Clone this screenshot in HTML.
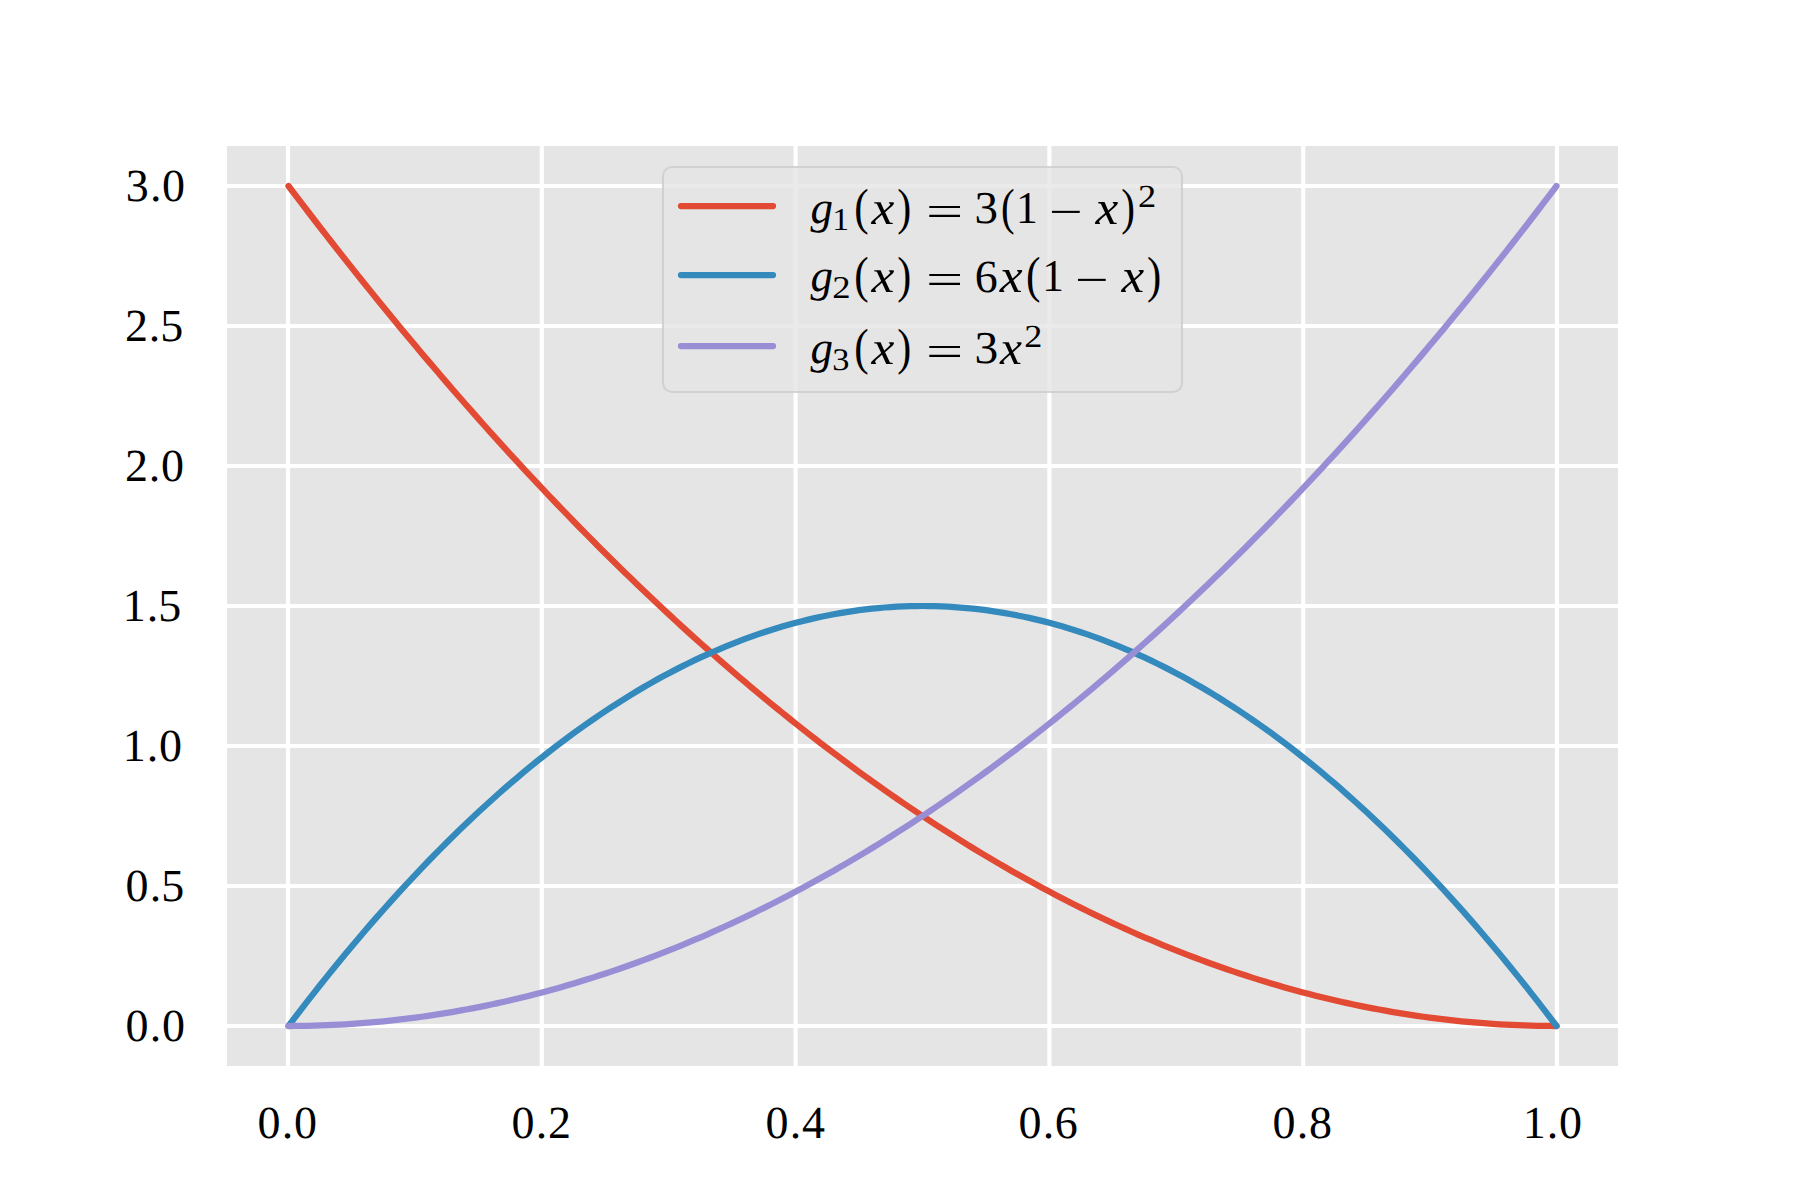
<!DOCTYPE html>
<html lang="en">
<head>
<meta charset="utf-8">
<title>Bernstein basis densities</title>
<style>
html,body{margin:0;padding:0;background:#fff;}
body{width:1800px;height:1200px;overflow:hidden;}
svg{display:block;}
text{font-family:"Liberation Serif","DejaVu Serif",serif;fill:#000;text-rendering:geometricPrecision;}
.tick{font-size:46px;}
</style>
</head>
<body>
<svg width="1800" height="1200" viewBox="0 0 1800 1200">
<rect x="0" y="0" width="1800" height="1200" fill="#ffffff"/>
<rect x="227" y="146" width="1391" height="920" fill="#e5e5e5"/>
<g stroke="#ffffff" stroke-width="4.17" fill="none">
<line x1="288.00" y1="146" x2="288.00" y2="1066"/>
<line x1="541.80" y1="146" x2="541.80" y2="1066"/>
<line x1="795.60" y1="146" x2="795.60" y2="1066"/>
<line x1="1049.40" y1="146" x2="1049.40" y2="1066"/>
<line x1="1303.20" y1="146" x2="1303.20" y2="1066"/>
<line x1="1557.00" y1="146" x2="1557.00" y2="1066"/>
<line x1="227" y1="1026.00" x2="1618" y2="1026.00"/>
<line x1="227" y1="886.00" x2="1618" y2="886.00"/>
<line x1="227" y1="746.00" x2="1618" y2="746.00"/>
<line x1="227" y1="606.00" x2="1618" y2="606.00"/>
<line x1="227" y1="466.00" x2="1618" y2="466.00"/>
<line x1="227" y1="326.00" x2="1618" y2="326.00"/>
<line x1="227" y1="186.00" x2="1618" y2="186.00"/>
</g>
<g fill="none" stroke-width="6.25" stroke-linecap="round" stroke-linejoin="round">
<path stroke="#e24a33" d="M288.50,186.00 L294.84,194.38 L301.18,202.72 L307.52,211.01 L313.86,219.26 L320.20,227.48 L326.54,235.64 L332.88,243.77 L339.22,251.86 L345.56,259.90 L351.90,267.90 L358.24,275.86 L364.58,283.78 L370.92,291.65 L377.26,299.48 L383.60,307.27 L389.94,315.02 L396.28,322.73 L402.62,330.40 L408.96,338.02 L415.30,345.60 L421.64,353.14 L427.98,360.64 L434.32,368.09 L440.66,375.50 L447.00,382.88 L453.34,390.20 L459.68,397.49 L466.02,404.74 L472.36,411.94 L478.70,419.10 L485.04,426.22 L491.38,433.30 L497.72,440.33 L504.06,447.32 L510.40,454.28 L516.74,461.18 L523.08,468.05 L529.42,474.88 L535.76,481.66 L542.10,488.40 L548.44,495.10 L554.78,501.76 L561.12,508.37 L567.46,514.94 L573.80,521.47 L580.14,527.96 L586.48,534.41 L592.82,540.82 L599.16,547.18 L605.50,553.50 L611.84,559.78 L618.18,566.02 L624.52,572.21 L630.86,578.36 L637.20,584.47 L643.54,590.54 L649.88,596.57 L656.22,602.56 L662.56,608.50 L668.90,614.40 L675.24,620.26 L681.58,626.08 L687.92,631.85 L694.26,637.58 L700.60,643.27 L706.94,648.92 L713.28,654.53 L719.62,660.10 L725.96,665.62 L732.30,671.10 L738.64,676.54 L744.98,681.94 L751.32,687.29 L757.66,692.60 L764.00,697.88 L770.34,703.10 L776.68,708.29 L783.02,713.44 L789.36,718.54 L795.70,723.60 L802.04,728.62 L808.38,733.60 L814.72,738.53 L821.06,743.42 L827.40,748.28 L833.74,753.08 L840.08,757.85 L846.42,762.58 L852.76,767.26 L859.10,771.90 L865.44,776.50 L871.78,781.06 L878.12,785.57 L884.46,790.04 L890.80,794.48 L897.14,798.86 L903.48,803.21 L909.82,807.52 L916.16,811.78 L922.50,816.00 L928.84,820.18 L935.18,824.32 L941.52,828.41 L947.86,832.46 L954.20,836.48 L960.54,840.44 L966.88,844.37 L973.22,848.26 L979.56,852.10 L985.90,855.90 L992.24,859.66 L998.58,863.38 L1004.92,867.05 L1011.26,870.68 L1017.60,874.28 L1023.94,877.82 L1030.28,881.33 L1036.62,884.80 L1042.96,888.22 L1049.30,891.60 L1055.64,894.94 L1061.98,898.24 L1068.32,901.49 L1074.66,904.70 L1081.00,907.88 L1087.34,911.00 L1093.68,914.09 L1100.02,917.14 L1106.36,920.14 L1112.70,923.10 L1119.04,926.02 L1125.38,928.90 L1131.72,931.73 L1138.06,934.52 L1144.40,937.28 L1150.74,939.98 L1157.08,942.65 L1163.42,945.28 L1169.76,947.86 L1176.10,950.40 L1182.44,952.90 L1188.78,955.36 L1195.12,957.77 L1201.46,960.14 L1207.80,962.48 L1214.14,964.76 L1220.48,967.01 L1226.82,969.22 L1233.16,971.38 L1239.50,973.50 L1245.84,975.58 L1252.18,977.62 L1258.52,979.61 L1264.86,981.56 L1271.20,983.48 L1277.54,985.34 L1283.88,987.17 L1290.22,988.96 L1296.56,990.70 L1302.90,992.40 L1309.24,994.06 L1315.58,995.68 L1321.92,997.25 L1328.26,998.78 L1334.60,1000.27 L1340.94,1001.72 L1347.28,1003.13 L1353.62,1004.50 L1359.96,1005.82 L1366.30,1007.10 L1372.64,1008.34 L1378.98,1009.54 L1385.32,1010.69 L1391.66,1011.80 L1398.00,1012.88 L1404.34,1013.90 L1410.68,1014.89 L1417.02,1015.84 L1423.36,1016.74 L1429.70,1017.60 L1436.04,1018.42 L1442.38,1019.20 L1448.72,1019.93 L1455.06,1020.62 L1461.40,1021.27 L1467.74,1021.88 L1474.08,1022.45 L1480.42,1022.98 L1486.76,1023.46 L1493.10,1023.90 L1499.44,1024.30 L1505.78,1024.66 L1512.12,1024.97 L1518.46,1025.24 L1524.80,1025.47 L1531.14,1025.66 L1537.48,1025.81 L1543.82,1025.92 L1550.16,1025.98 L1556.50,1026.00"/>
<path stroke="#348abd" d="M288.50,1026.00 L294.84,1017.64 L301.18,1009.37 L307.52,1001.18 L313.86,993.07 L320.20,985.05 L326.54,977.11 L332.88,969.26 L339.22,961.49 L345.56,953.80 L351.90,946.20 L358.24,938.68 L364.58,931.25 L370.92,923.90 L377.26,916.63 L383.60,909.45 L389.94,902.35 L396.28,895.34 L402.62,888.41 L408.96,881.56 L415.30,874.80 L421.64,868.12 L427.98,861.53 L434.32,855.02 L440.66,848.59 L447.00,842.25 L453.34,835.99 L459.68,829.82 L466.02,823.73 L472.36,817.72 L478.70,811.80 L485.04,805.96 L491.38,800.21 L497.72,794.54 L504.06,788.95 L510.40,783.45 L516.74,778.03 L523.08,772.70 L529.42,767.45 L535.76,762.28 L542.10,757.20 L548.44,752.20 L554.78,747.29 L561.12,742.46 L567.46,737.71 L573.80,733.05 L580.14,728.47 L586.48,723.98 L592.82,719.57 L599.16,715.24 L605.50,711.00 L611.84,706.84 L618.18,702.77 L624.52,698.78 L630.86,694.87 L637.20,691.05 L643.54,687.31 L649.88,683.66 L656.22,680.09 L662.56,676.60 L668.90,673.20 L675.24,669.88 L681.58,666.65 L687.92,663.50 L694.26,660.43 L700.60,657.45 L706.94,654.55 L713.28,651.74 L719.62,649.01 L725.96,646.36 L732.30,643.80 L738.64,641.32 L744.98,638.93 L751.32,636.62 L757.66,634.39 L764.00,632.25 L770.34,630.19 L776.68,628.22 L783.02,626.33 L789.36,624.52 L795.70,622.80 L802.04,621.16 L808.38,619.61 L814.72,618.14 L821.06,616.75 L827.40,615.45 L833.74,614.23 L840.08,613.10 L846.42,612.05 L852.76,611.08 L859.10,610.20 L865.44,609.40 L871.78,608.69 L878.12,608.06 L884.46,607.51 L890.80,607.05 L897.14,606.67 L903.48,606.38 L909.82,606.17 L916.16,606.04 L922.50,606.00 L928.84,606.04 L935.18,606.17 L941.52,606.38 L947.86,606.67 L954.20,607.05 L960.54,607.51 L966.88,608.06 L973.22,608.69 L979.56,609.40 L985.90,610.20 L992.24,611.08 L998.58,612.05 L1004.92,613.10 L1011.26,614.23 L1017.60,615.45 L1023.94,616.75 L1030.28,618.14 L1036.62,619.61 L1042.96,621.16 L1049.30,622.80 L1055.64,624.52 L1061.98,626.33 L1068.32,628.22 L1074.66,630.19 L1081.00,632.25 L1087.34,634.39 L1093.68,636.62 L1100.02,638.93 L1106.36,641.32 L1112.70,643.80 L1119.04,646.36 L1125.38,649.01 L1131.72,651.74 L1138.06,654.55 L1144.40,657.45 L1150.74,660.43 L1157.08,663.50 L1163.42,666.65 L1169.76,669.88 L1176.10,673.20 L1182.44,676.60 L1188.78,680.09 L1195.12,683.66 L1201.46,687.31 L1207.80,691.05 L1214.14,694.87 L1220.48,698.78 L1226.82,702.77 L1233.16,706.84 L1239.50,711.00 L1245.84,715.24 L1252.18,719.57 L1258.52,723.98 L1264.86,728.47 L1271.20,733.05 L1277.54,737.71 L1283.88,742.46 L1290.22,747.29 L1296.56,752.20 L1302.90,757.20 L1309.24,762.28 L1315.58,767.45 L1321.92,772.70 L1328.26,778.03 L1334.60,783.45 L1340.94,788.95 L1347.28,794.54 L1353.62,800.21 L1359.96,805.96 L1366.30,811.80 L1372.64,817.72 L1378.98,823.73 L1385.32,829.82 L1391.66,835.99 L1398.00,842.25 L1404.34,848.59 L1410.68,855.02 L1417.02,861.53 L1423.36,868.12 L1429.70,874.80 L1436.04,881.56 L1442.38,888.41 L1448.72,895.34 L1455.06,902.35 L1461.40,909.45 L1467.74,916.63 L1474.08,923.90 L1480.42,931.25 L1486.76,938.68 L1493.10,946.20 L1499.44,953.80 L1505.78,961.49 L1512.12,969.26 L1518.46,977.11 L1524.80,985.05 L1531.14,993.07 L1537.48,1001.18 L1543.82,1009.37 L1550.16,1017.64 L1556.50,1026.00"/>
<path stroke="#988ed5" d="M288.50,1026.00 L294.84,1025.98 L301.18,1025.92 L307.52,1025.81 L313.86,1025.66 L320.20,1025.47 L326.54,1025.24 L332.88,1024.97 L339.22,1024.66 L345.56,1024.30 L351.90,1023.90 L358.24,1023.46 L364.58,1022.98 L370.92,1022.45 L377.26,1021.88 L383.60,1021.27 L389.94,1020.62 L396.28,1019.93 L402.62,1019.20 L408.96,1018.42 L415.30,1017.60 L421.64,1016.74 L427.98,1015.84 L434.32,1014.89 L440.66,1013.90 L447.00,1012.88 L453.34,1011.80 L459.68,1010.69 L466.02,1009.54 L472.36,1008.34 L478.70,1007.10 L485.04,1005.82 L491.38,1004.50 L497.72,1003.13 L504.06,1001.72 L510.40,1000.27 L516.74,998.78 L523.08,997.25 L529.42,995.68 L535.76,994.06 L542.10,992.40 L548.44,990.70 L554.78,988.96 L561.12,987.17 L567.46,985.34 L573.80,983.48 L580.14,981.56 L586.48,979.61 L592.82,977.62 L599.16,975.58 L605.50,973.50 L611.84,971.38 L618.18,969.22 L624.52,967.01 L630.86,964.76 L637.20,962.48 L643.54,960.14 L649.88,957.77 L656.22,955.36 L662.56,952.90 L668.90,950.40 L675.24,947.86 L681.58,945.28 L687.92,942.65 L694.26,939.98 L700.60,937.27 L706.94,934.52 L713.28,931.73 L719.62,928.90 L725.96,926.02 L732.30,923.10 L738.64,920.14 L744.98,917.14 L751.32,914.09 L757.66,911.00 L764.00,907.88 L770.34,904.70 L776.68,901.49 L783.02,898.24 L789.36,894.94 L795.70,891.60 L802.04,888.22 L808.38,884.80 L814.72,881.33 L821.06,877.82 L827.40,874.28 L833.74,870.68 L840.08,867.05 L846.42,863.38 L852.76,859.66 L859.10,855.90 L865.44,852.10 L871.78,848.26 L878.12,844.37 L884.46,840.44 L890.80,836.48 L897.14,832.46 L903.48,828.41 L909.82,824.32 L916.16,820.18 L922.50,816.00 L928.84,811.78 L935.18,807.52 L941.52,803.21 L947.86,798.86 L954.20,794.48 L960.54,790.04 L966.88,785.57 L973.22,781.06 L979.56,776.50 L985.90,771.90 L992.24,767.26 L998.58,762.58 L1004.92,757.85 L1011.26,753.08 L1017.60,748.27 L1023.94,743.42 L1030.28,738.53 L1036.62,733.60 L1042.96,728.62 L1049.30,723.60 L1055.64,718.54 L1061.98,713.44 L1068.32,708.29 L1074.66,703.10 L1081.00,697.88 L1087.34,692.60 L1093.68,687.29 L1100.02,681.94 L1106.36,676.54 L1112.70,671.10 L1119.04,665.62 L1125.38,660.10 L1131.72,654.53 L1138.06,648.92 L1144.40,643.27 L1150.74,637.58 L1157.08,631.85 L1163.42,626.08 L1169.76,620.26 L1176.10,614.40 L1182.44,608.50 L1188.78,602.56 L1195.12,596.57 L1201.46,590.54 L1207.80,584.47 L1214.14,578.36 L1220.48,572.21 L1226.82,566.02 L1233.16,559.78 L1239.50,553.50 L1245.84,547.18 L1252.18,540.82 L1258.52,534.41 L1264.86,527.96 L1271.20,521.47 L1277.54,514.94 L1283.88,508.37 L1290.22,501.76 L1296.56,495.10 L1302.90,488.40 L1309.24,481.66 L1315.58,474.88 L1321.92,468.05 L1328.26,461.18 L1334.60,454.27 L1340.94,447.32 L1347.28,440.33 L1353.62,433.30 L1359.96,426.22 L1366.30,419.10 L1372.64,411.94 L1378.98,404.74 L1385.32,397.49 L1391.66,390.20 L1398.00,382.88 L1404.34,375.50 L1410.68,368.09 L1417.02,360.64 L1423.36,353.14 L1429.70,345.60 L1436.04,338.02 L1442.38,330.40 L1448.72,322.73 L1455.06,315.02 L1461.40,307.27 L1467.74,299.48 L1474.08,291.65 L1480.42,283.78 L1486.76,275.86 L1493.10,267.90 L1499.44,259.90 L1505.78,251.86 L1512.12,243.77 L1518.46,235.64 L1524.80,227.48 L1531.14,219.26 L1537.48,211.01 L1543.82,202.72 L1550.16,194.38 L1556.50,186.00"/>
</g>
<rect x="663" y="167" width="519" height="225" rx="9" ry="9" fill="#e5e5e5" fill-opacity="0.8" stroke="#cccccc" stroke-opacity="0.8" stroke-width="2.08"/>
<g fill="none" stroke-width="6.25" stroke-linecap="round">
<line stroke="#e24a33" x1="681" y1="206" x2="773" y2="206"/>
<line stroke="#348abd" x1="681" y1="275" x2="773" y2="275"/>
<line stroke="#988ed5" x1="681" y1="346" x2="773" y2="346"/>
</g>
<text class="tick" x="125.70 149.97 161.95" y="201.00">3.0</text>
<text class="tick" x="124.98 148.87 160.33" y="341.00">2.5</text>
<text class="tick" x="124.98 148.87 160.95" y="481.00">2.0</text>
<text class="tick" x="122.66 146.67 158.33" y="621.00">1.5</text>
<text class="tick" x="122.66 146.67 158.95" y="761.00">1.0</text>
<text class="tick" x="125.55 149.87 161.33" y="901.00">0.5</text>
<text class="tick" x="125.55 149.87 161.95" y="1041.00">0.0</text>
<text class="tick" x="257.55 281.77 293.95" y="1138.00">0.0</text>
<text class="tick" x="511.55 535.77 547.88" y="1138.00">0.2</text>
<text class="tick" x="765.55 789.77 802.10" y="1138.00">0.4</text>
<text class="tick" x="1018.55 1042.77 1054.72" y="1138.00">0.6</text>
<text class="tick" x="1272.55 1296.77 1309.05" y="1138.00">0.8</text>
<text class="tick" x="1522.66 1546.67 1558.95" y="1138.00">1.0</text>
<text><tspan x="810.48" y="223.00" font-size="45.79" font-style="italic" textLength="22.54" lengthAdjust="spacingAndGlyphs">g</tspan><tspan x="832.33" y="230.00" font-size="31.66" textLength="16.90" lengthAdjust="spacingAndGlyphs">1</tspan><tspan x="854.20" y="224.00" font-size="50.95" textLength="14.39" lengthAdjust="spacingAndGlyphs">(</tspan><tspan x="871.63" y="224.00" font-size="47.50" font-style="italic" textLength="22.85" lengthAdjust="spacingAndGlyphs">x</tspan><tspan x="897.14" y="224.00" font-size="50.95" textLength="14.00" lengthAdjust="spacingAndGlyphs">)</tspan><tspan x="926.01" y="226.00" font-size="44.00" textLength="37.21" lengthAdjust="spacingAndGlyphs">=</tspan><tspan x="974.45" y="223.00" font-size="45.69" textLength="23.48" lengthAdjust="spacingAndGlyphs">3</tspan><tspan x="1000.90" y="224.00" font-size="50.95" textLength="13.61" lengthAdjust="spacingAndGlyphs">(</tspan><tspan x="1016.08" y="223.00" font-size="45.44" textLength="21.73" lengthAdjust="spacingAndGlyphs">1</tspan><tspan x="1048.92" y="226.00" font-size="42.50" textLength="33.69" lengthAdjust="spacingAndGlyphs">−</tspan><tspan x="1095.63" y="224.00" font-size="47.71" font-style="italic" textLength="22.75" lengthAdjust="spacingAndGlyphs">x</tspan><tspan x="1121.37" y="224.00" font-size="50.95" textLength="13.74" lengthAdjust="spacingAndGlyphs">)</tspan><tspan x="1138.10" y="207.00" font-size="32.02" textLength="18.21" lengthAdjust="spacingAndGlyphs">2</tspan></text>
<text><tspan x="810.48" y="291.00" font-size="45.79" font-style="italic" textLength="22.54" lengthAdjust="spacingAndGlyphs">g</tspan><tspan x="832.29" y="298.00" font-size="31.72" textLength="18.33" lengthAdjust="spacingAndGlyphs">2</tspan><tspan x="854.20" y="292.00" font-size="50.95" textLength="14.39" lengthAdjust="spacingAndGlyphs">(</tspan><tspan x="871.63" y="292.00" font-size="47.50" font-style="italic" textLength="22.85" lengthAdjust="spacingAndGlyphs">x</tspan><tspan x="897.14" y="292.00" font-size="50.95" textLength="14.00" lengthAdjust="spacingAndGlyphs">)</tspan><tspan x="926.01" y="294.00" font-size="44.00" textLength="37.21" lengthAdjust="spacingAndGlyphs">=</tspan><tspan x="974.73" y="292.00" font-size="46.14" textLength="22.94" lengthAdjust="spacingAndGlyphs">6</tspan><tspan x="999.83" y="292.00" font-size="47.71" font-style="italic" textLength="22.85" lengthAdjust="spacingAndGlyphs">x</tspan><tspan x="1026.08" y="292.00" font-size="50.95" textLength="14.52" lengthAdjust="spacingAndGlyphs">(</tspan><tspan x="1042.21" y="291.00" font-size="45.44" textLength="21.59" lengthAdjust="spacingAndGlyphs">1</tspan><tspan x="1074.92" y="294.00" font-size="42.50" textLength="33.69" lengthAdjust="spacingAndGlyphs">−</tspan><tspan x="1121.62" y="292.00" font-size="47.71" font-style="italic" textLength="22.65" lengthAdjust="spacingAndGlyphs">x</tspan><tspan x="1146.92" y="292.00" font-size="50.95" textLength="14.26" lengthAdjust="spacingAndGlyphs">)</tspan></text>
<text><tspan x="810.48" y="363.00" font-size="45.79" font-style="italic" textLength="22.54" lengthAdjust="spacingAndGlyphs">g</tspan><tspan x="832.26" y="370.00" font-size="31.40" textLength="17.19" lengthAdjust="spacingAndGlyphs">3</tspan><tspan x="854.20" y="364.00" font-size="50.95" textLength="14.39" lengthAdjust="spacingAndGlyphs">(</tspan><tspan x="871.63" y="364.00" font-size="47.50" font-style="italic" textLength="22.85" lengthAdjust="spacingAndGlyphs">x</tspan><tspan x="897.14" y="364.00" font-size="50.95" textLength="14.00" lengthAdjust="spacingAndGlyphs">)</tspan><tspan x="926.01" y="366.00" font-size="44.00" textLength="37.21" lengthAdjust="spacingAndGlyphs">=</tspan><tspan x="974.43" y="363.00" font-size="45.69" textLength="23.72" lengthAdjust="spacingAndGlyphs">3</tspan><tspan x="999.90" y="364.00" font-size="47.50" font-style="italic" textLength="21.96" lengthAdjust="spacingAndGlyphs">x</tspan><tspan x="1024.31" y="347.00" font-size="32.02" textLength="18.09" lengthAdjust="spacingAndGlyphs">2</tspan></text>
</svg>
</body>
</html>
